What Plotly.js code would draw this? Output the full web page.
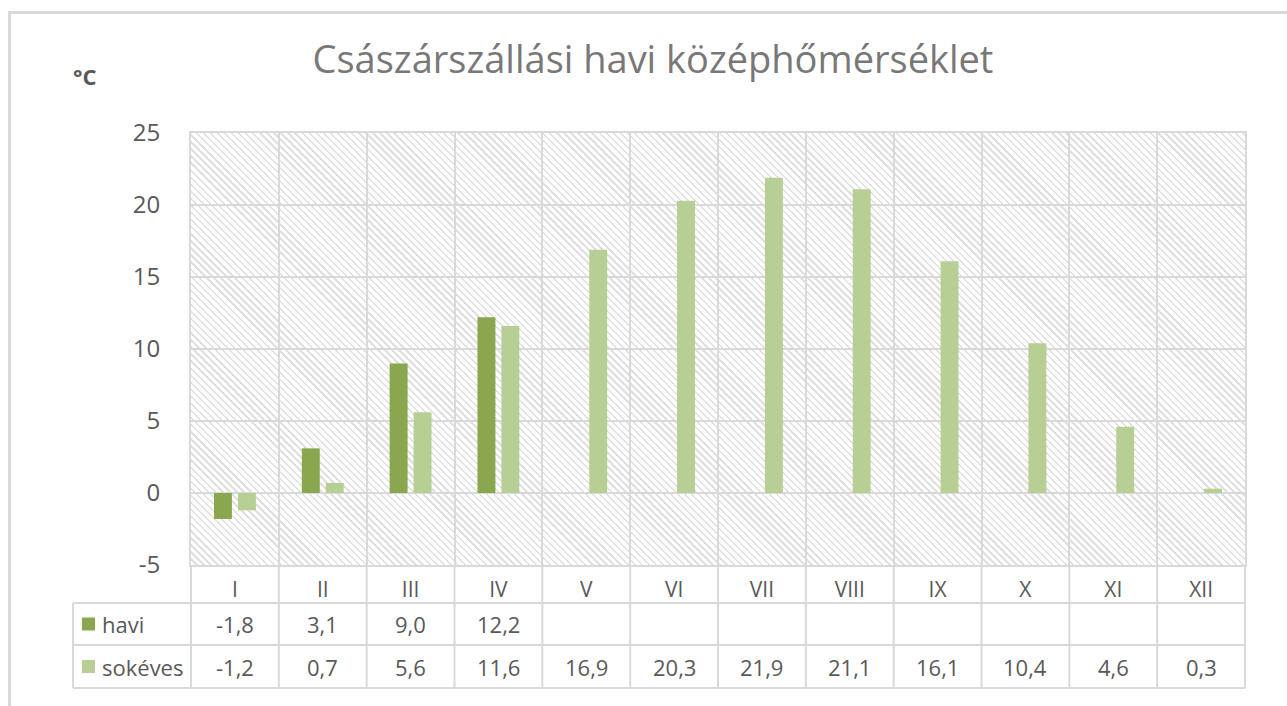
<!DOCTYPE html>
<html><head><meta charset="utf-8">
<script src="https://cdn.plot.ly/plotly-3.0.1.min.js"></script>
<style>
html,body{margin:0;padding:0;background:#fff;overflow:hidden;width:1287px;height:706px;}
#wrap{position:relative;width:1287px;height:706px;}
#frame{position:absolute;left:8px;top:11px;width:1400px;height:800px;border:3px solid #d9d9d9;box-sizing:border-box;}
#hatch{position:absolute;background:repeating-linear-gradient(45deg,#ffffff 0px,#ffffff 3.3px,#e0e0e0 3.3px,#e0e0e0 5px);}
#chart{position:absolute;left:0;top:0;width:1287px;height:706px;}
</style></head>
<body>
<div id="wrap"><div id="frame"></div><div id="hatch"></div><div id="chart"></div></div>
<script>
const months = ['I','II','III','IV','V','VI','VII','VIII','IX','X','XI','XII'];
const haviName = 'havi';
const sokevesName = 'sokéves';
const havi = [-1.8, 3.1, 9.0, 12.2, null, null, null, null, null, null, null, null];
const sokeves = [-1.2, 0.7, 5.6, 11.6, 16.9, 20.3, 21.9, 21.1, 16.1, 10.4, 4.6, 0.3];
const yTicks = [-5, 0, 5, 10, 15, 20, 25];
const titleText = 'Császárszállási havi középhőmérséklet';
const unitText = '°C';

const haviColor = '#8aa64f';
const sokevesColor = '#b7cf95';
const gridColor = '#d9d9d9';
const textColor = '#595959';
const FONT = '"Open Sans", "Noto Sans", sans-serif';

const W = 1287, H = 706;
const L = 191, R = 42, T = 133, B = 141;
const plotW = W - L - R, plotH = H - T - B;
const py = px => -(px - (H - B)) / plotH;   // pixel y below plot -> paper y
const pxX = px => (px - L) / plotW;          // pixel x -> paper x

const rowHaviTop = 603, rowSokTop = 645, rowBottom = 688;
const tableLeft = 73;

const fmt = v => (v === null || v === undefined) ? '' : v.toFixed(1).replace('.', ',');

const traces = [
  {type:'bar', name:haviName, x:months, y:havi, marker:{color:haviColor}, hoverinfo:'x+y'},
  {type:'bar', name:sokevesName, x:months, y:sokeves, marker:{color:sokevesColor}, hoverinfo:'x+y'}
];

const shapes = [];
const lineStyle = {color:gridColor, width:2};
[rowHaviTop, rowSokTop, rowBottom].forEach(yy => {
  shapes.push({type:'line', xref:'paper', yref:'paper', x0:pxX(tableLeft), x1:1, y0:py(yy), y1:py(yy), line:lineStyle});
});
shapes.push({type:'line', xref:'paper', yref:'paper', x0:pxX(tableLeft), x1:pxX(tableLeft), y0:py(rowHaviTop), y1:py(rowBottom), line:lineStyle});
for (let i = 0; i <= months.length; i++) {
  shapes.push({type:'line', xref:'paper', yref:'paper', x0:i/months.length, x1:i/months.length, y0:0, y1:py(rowBottom), line:lineStyle});
}
const keyX0 = 82, keyX1 = 95;
[[rowHaviTop, rowSokTop, haviColor],[rowSokTop, rowBottom, sokevesColor]].forEach(([a,b,c]) => {
  const mid = (a+b)/2;
  shapes.push({type:'rect', xref:'paper', yref:'paper', x0:pxX(keyX0), x1:pxX(keyX1), y0:py(mid-6.5), y1:py(mid+6.5), fillcolor:c, line:{width:0}});
});

const annotations = [];
const cellFont = {family:FONT, size:22, color:textColor};
months.forEach((m, i) => {
  annotations.push({xref:'x', yref:'paper', x:m, y:py((rowHaviTop+rowSokTop)/2), text:fmt(havi[i]), showarrow:false, font:cellFont, xanchor:'center', yanchor:'middle'});
  annotations.push({xref:'x', yref:'paper', x:m, y:py((rowSokTop+rowBottom)/2), text:fmt(sokeves[i]), showarrow:false, font:cellFont, xanchor:'center', yanchor:'middle'});
});
annotations.push({xref:'paper', yref:'paper', x:pxX(100), y:py((rowHaviTop+rowSokTop)/2), text:haviName, showarrow:false, font:cellFont, xanchor:'left', yanchor:'middle'});
annotations.push({xref:'paper', yref:'paper', x:pxX(100), y:py((rowSokTop+rowBottom)/2), text:sokevesName, showarrow:false, font:cellFont, xanchor:'left', yanchor:'middle'});
annotations.push({xref:'paper', yref:'paper', x:pxX(71), y:1 + (T-76)/plotH, text:'<b>'+unitText+'</b>', showarrow:false, font:{family:FONT, size:22, color:textColor}, xanchor:'left', yanchor:'middle'});

const layout = {
  width:W, height:H,
  margin:{l:L, r:R, t:T, b:B, pad:0},
  paper_bgcolor:'rgba(0,0,0,0)', plot_bgcolor:'rgba(0,0,0,0)',
  showlegend:false,
  barmode:'group', bargap:0.455, bargroupgap:0.25,
  font:{family:FONT, color:textColor},
  title:{text:titleText, font:{family:FONT, size:38, color:'#787878'}, x:653/W, xref:'container', xanchor:'center', y:1-60/H, yref:'container', yanchor:'middle'},
  xaxis:{type:'category', tickson:'boundaries', showgrid:true, gridcolor:gridColor, gridwidth:2,
    showline:true, mirror:true, linecolor:gridColor, linewidth:2, ticks:'',
    tickfont:{family:FONT, size:21, color:textColor}, ticklabelstandoff:5, fixedrange:true},
  yaxis:{range:[-5,25], tickvals:yTicks, ticktext:yTicks.map(String), showgrid:true, gridcolor:gridColor, gridwidth:2,
    zeroline:true, zerolinecolor:gridColor, zerolinewidth:2,
    showline:true, mirror:true, linecolor:gridColor, linewidth:2, ticks:'',
    tickfont:{family:FONT, size:24, color:textColor}, ticklabelstandoff:24, fixedrange:true},
  shapes:shapes, annotations:annotations
};

Plotly.newPlot('chart', traces, layout, {displayModeBar:false, staticPlot:true}).then(gd => {
  const s = gd._fullLayout._size;
  const h = document.getElementById('hatch');
  h.style.left = s.l + 'px'; h.style.top = s.t + 'px';
  h.style.width = s.w + 'px'; h.style.height = s.h + 'px';
});
</script>
</body></html>
